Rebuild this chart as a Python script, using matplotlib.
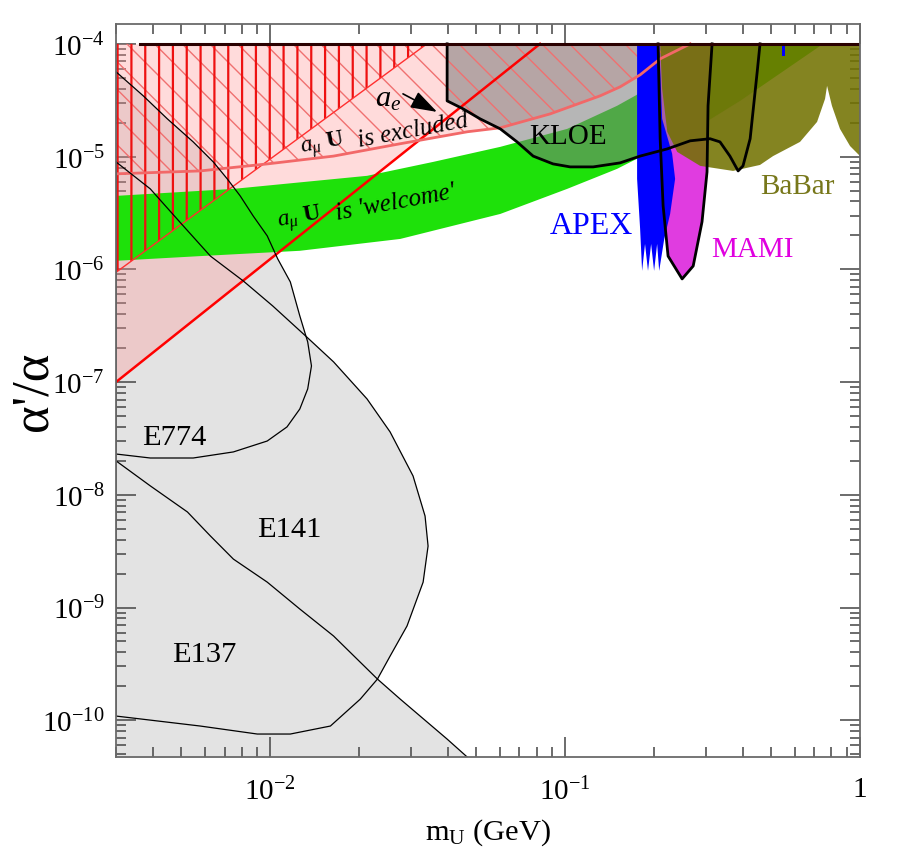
import numpy as np
import matplotlib
matplotlib.use("Agg")
import matplotlib.pyplot as plt

plt.rcParams['font.family'] = ['Liberation Serif', 'DejaVu Serif']
plt.rcParams['mathtext.fontset'] = 'custom'
plt.rcParams['mathtext.rm'] = 'Liberation Serif'
plt.rcParams['mathtext.it'] = 'Liberation Serif:italic'
plt.rcParams['mathtext.bf'] = 'Liberation Serif:bold'

# ---- data (m_U in GeV, alpha'/alpha) ----
region_top = 1e-4

# beam dump experiments
e774_m = [0.0030, 0.00371, 0.00448, 0.00548, 0.00641, 0.00715, 0.00791, 0.00875, 0.00977, 0.0106,
          0.0117, 0.0126, 0.0134, 0.0138, 0.0134, 0.0126, 0.0114, 0.00977, 0.00750, 0.00548, 0.00392, 0.0030]
e774_a = [5.65e-5, 3.46e-5, 2.16e-5, 1.35e-5, 8.97e-6, 6.34e-6, 4.48e-6, 2.98e-6, 1.98e-6, 1.24e-6,
          7.73e-7, 3.86e-7, 2.27e-7, 1.39e-7, 8.69e-8, 5.77e-8, 4.00e-8, 3.00e-8, 2.40e-8, 2.12e-8, 2.12e-8, 2.30e-8]

e141_m = [0.0030, 0.00392, 0.00507, 0.00627, 0.00810, 0.0102, 0.0133, 0.0164, 0.0213, 0.0255, 0.0305, 0.0335,
          0.0343, 0.0330, 0.0291, 0.0255, 0.0231, 0.0202, 0.0160, 0.0117, 0.00904, 0.00579, 0.0030]
e141_a = [8.97e-6, 5.17e-6, 2.43e-6, 1.31e-6, 7.89e-7, 4.73e-7, 2.51e-7, 1.51e-7, 7.08e-8, 3.61e-8, 1.47e-8, 6.48e-9,
          3.51e-9, 1.68e-9, 6.86e-10, 3.71e-10, 2.32e-10, 1.54e-10, 8.89e-11, 7.55e-11, 7.55e-11, 8.89e-11, 1.09e-10]

e137_m = [0.0030, 0.00392, 0.00524, 0.00627, 0.00750, 0.00977, 0.0126, 0.0164, 0.0231, 0.0276, 0.0398, 0.0466, 0.052]
e137_a = [2.00e-8, 1.20e-8, 7.04e-9, 4.31e-9, 2.69e-9, 1.68e-9, 9.70e-10, 5.59e-10, 2.32e-10, 1.54e-10, 6.81e-11,
          4.71e-11, 3.5e-11]

# electron g-2 (a_e) bound and muon g-2 bounds
ae_m = [0.003, 0.0822]
ae_a = [1e-7, 1e-4]

amu_excl_line_m = [0.003, 0.034]
amu_excl_line_a = [9.4e-7, 1e-4]

amu_m = [0.003, 0.00579, 0.00977, 0.0164, 0.0276, 0.0466, 0.0603, 0.0889, 0.1315, 0.1535, 0.1796, 0.210, 0.2655]
amu_a = [7.03e-6, 7.46e-6, 8.61e-6, 1.01e-5, 1.30e-5, 1.66e-5, 1.80e-5, 2.39e-5, 3.46e-5, 4.15e-5, 5.31e-5,
         7.36e-5, 1e-4]

# a_mu "welcome" band
band_hi_m = [0.003, 0.0075, 0.0213, 0.0357, 0.0603, 0.1016, 0.150, 0.175, 0.210, 0.2416]
band_hi_a = [4.48e-6, 5.17e-6, 6.75e-6, 8.97e-6, 1.22e-5, 1.76e-5, 2.82e-5, 3.53e-5, 6.52e-5, 1e-4]
band_lo_m = [0.003, 0.00579, 0.0126, 0.0276, 0.0603, 0.1016, 0.150, 0.175, 0.2493, 0.392, 0.750]
band_lo_a = [1.19e-6, 1.31e-6, 1.46e-6, 1.86e-6, 3.10e-6, 5.17e-6, 7.78e-6, 9.55e-6, 1.50e-5, 3.12e-5, 1e-4]

# KLOE
kloe_m = [0.0398, 0.0398, 0.0451, 0.0515, 0.0603, 0.0687, 0.0779, 0.0910, 0.104, 0.1245, 0.1535, 0.1796,
          0.222, 0.2655, 0.310, 0.335, 0.362, 0.386, 0.401, 0.424, 0.448, 0.458]
kloe_a = [1e-4, 3.12e-5, 2.65e-5, 2.16e-5, 1.76e-5, 1.35e-5, 1.01e-5, 8.61e-6, 8.10e-6, 8.10e-6, 8.79e-6, 1.01e-5,
          1.17e-5, 1.38e-5, 1.44e-5, 1.35e-5, 1.01e-5, 7.46e-6, 8.27e-6, 1.44e-5, 5.65e-5, 1e-4]

# MAMI
mami_m = [0.2066, 0.210, 0.2149, 0.2234, 0.2493, 0.2718, 0.2912, 0.3028, 0.3052, 0.315]
mami_a = [1e-4, 1.44e-5, 3.66e-6, 1.31e-6, 8.22e-7, 1.07e-6, 2.64e-6, 7.31e-6, 2.82e-5, 1e-4]

# APEX
apex_m = [0.1754, 0.1754, 0.1796, 0.1824, 0.1866, 0.1910, 0.1957, 0.2003, 0.2051, 0.2084, 0.2168, 0.2270,
          0.2360, 0.2306, 0.2133, 0.2084]
apex_a = [1e-4, 6.34e-6, 2.28e-6, 9.68e-7, 1.68e-6, 9.68e-7, 1.68e-6, 9.68e-7, 1.68e-6, 9.68e-7, 1.86e-6,
          3.10e-6, 6.34e-6, 1.06e-5, 2.16e-5, 1e-4]
apex2_m = [0.543, 0.543, 0.556, 0.556]
apex2_a = [1e-4, 7.8e-5, 7.8e-5, 1e-4]

# BaBar
babar_m = [0.210, 0.2133, 0.222, 0.240, 0.287, 0.371, 0.458, 0.507, 0.626, 0.715, 0.761, 0.773, 0.803, 0.855,
           0.925, 1.0, 1.12, 1.12]
babar_a = [1e-4, 3.99e-5, 1.66e-5, 1.10e-5, 8.27e-6, 7.46e-6, 8.43e-6, 1.01e-5, 1.35e-5, 2.03e-5, 3.25e-5,
           4.24e-5, 2.82e-5, 1.76e-5, 1.24e-5, 1.01e-5, 9.5e-6, 1e-4]

top_edge_m = [0.00362, 1.0]

xtick_vals = [1e-2, 1e-1, 1]
xtick_text = [r'$10^{-2}$', r'$10^{-1}$', '1']
ytick_vals = [1e-10, 1e-9, 1e-8, 1e-7, 1e-6, 1e-5, 1e-4]
ytick_text = [r'$10^{-10}$', r'$10^{-9}$', r'$10^{-8}$', r'$10^{-7}$', r'$10^{-6}$', r'$10^{-5}$', r'$10^{-4}$']

# figure drawn at 83.3 dpi so that hatch spacing matches; sizes scaled by S
DPI = 250 / 3
S = 100 / DPI


def hatch_fill(ax, m, a, hatch, color, lw, z):
    xs = list(m) + [m[-1], m[0]]
    ys = list(a) + [region_top, region_top]
    p = ax.fill(xs, ys, facecolor='none', edgecolor=color, hatch=hatch, linewidth=0, zorder=z)[0]
    if hasattr(p, 'set_hatch_linewidth'):
        p.set_hatch_linewidth(lw)
    return p


plt.rcParams['hatch.linewidth'] = 1.0 * S
fig = plt.figure(figsize=(10.8, 10.2), dpi=DPI)
ax = fig.add_axes([0.1289, 0.1082, 0.8267, 0.8624])
ax.set_xscale('log')
ax.set_yscale('log')
ax.set_xlim(0.003, 1.0)
ax.set_ylim(4.72e-11, 1.5e-4)

# gray beam dump regions
gray = '#e3e3e3'
ax.fill(e774_m, e774_a, color=gray, lw=0, zorder=1)
ax.fill(e141_m, e141_a, color=gray, lw=0, zorder=1)
ax.fill_between(e137_m, 1e-12, e137_a, color=gray, lw=0, zorder=1)

# pink: excluded by a_e or a_mu
lm = np.linspace(np.log10(ae_m[0]), np.log10(amu_m[-1]), 500)
lb = np.interp(lm, np.log10(ae_m), np.log10(ae_a))
lc = np.interp(lm, np.log10(amu_m), np.log10(amu_a))
ax.fill_between(10 ** lm, 10 ** np.minimum(lb, lc), region_top, color='#ff9a9a', alpha=0.35, lw=0, zorder=2)

# green a_mu welcome band
gx = band_hi_m + band_lo_m[::-1]
gy = band_hi_a + band_lo_a[::-1]
ax.fill(gx, gy, color='#1ee10a', lw=0, zorder=3)

# MAMI, KLOE
ax.fill(mami_m, mami_a, color='#e03ce0', lw=0, zorder=3.5)
ax.fill(kloe_m, kloe_a, color='#7a7a7a', alpha=0.55, lw=0, zorder=4)

# hatching
plt.rcParams['hatch.linewidth'] = 1.0 * S
hatch_fill(ax, amu_m, amu_a, '\\', '#f07070', 1.0 * S, 5)
plt.rcParams['hatch.linewidth'] = 1.6 * S
hatch_fill(ax, amu_excl_line_m, amu_excl_line_a, '|', '#ee1111', 1.6 * S, 5)

# BaBar, APEX
ax.fill(babar_m, babar_a, color='#727200', alpha=0.87, lw=0, zorder=6)
ax.fill(apex_m, apex_a, color='#0000ff', lw=0, zorder=6.5)
ax.fill(apex2_m, apex2_a, color='#0000ff', lw=0, zorder=6.5)

# lines
ax.plot(amu_excl_line_m, amu_excl_line_a, color='#ff3030', lw=1.0 * S, zorder=7)
ax.plot(ae_m, ae_a, color='#ff0000', lw=1.8 * S, zorder=7)
ax.plot(amu_m, amu_a, color='#f26868', lw=2.0 * S, zorder=7)
ax.plot(e774_m, e774_a, color='black', lw=0.9 * S, zorder=7)
ax.plot(e141_m + e141_m[:1], e141_a + e141_a[:1], color='black', lw=0.9 * S, zorder=7)
ax.plot(e137_m, e137_a, color='black', lw=0.9 * S, zorder=7)
ax.plot(kloe_m, kloe_a, color='black', lw=2.0 * S, zorder=7)
ax.plot(mami_m, mami_a, color='black', lw=2.0 * S, zorder=7)
ax.plot(top_edge_m, [region_top, region_top], color='#2a0000', lw=2.2 * S, zorder=7.5)

# labels
ax.text(0.00473, 3.26e-8, 'E774', fontsize=22 * S, ha='center', va='center', zorder=9)
ax.text(0.01159, 4.98e-9, 'E141', fontsize=22 * S, ha='center', va='center', zorder=9)
ax.text(0.00597, 3.86e-10, 'E137', fontsize=22 * S, ha='center', va='center', zorder=9)
ax.text(0.1023, 1.53e-5, 'KLOE', fontsize=21 * S, ha='center', va='center', zorder=9)
ax.text(0.1224, 2.43e-6, 'APEX', fontsize=23 * S, color='#0000ff', ha='center', va='center', zorder=9)
ax.text(0.4305, 1.52e-6, 'MAMI', fontsize=21 * S, color='#e000e0', ha='center', va='center', zorder=9)
ax.text(0.611, 5.50e-6, 'BaBar', fontsize=21 * S, color='#77771a', ha='center', va='center', zorder=9)

rot = 10.5
ax.text(0.0150, 1.30e-5, r'$a_{\mu}\ \mathbf{U}$', fontsize=17 * S, rotation=rot, rotation_mode='anchor',
        ha='center', va='center', zorder=9)
ax.text(0.0305, 1.73e-5, 'is excluded', fontsize=18 * S, style='italic', rotation=rot, rotation_mode='anchor',
        ha='center', va='center', zorder=9)
ax.text(0.01254, 2.86e-6, r'$a_{\mu}\ \mathbf{U}$', fontsize=17 * S, rotation=rot, rotation_mode='anchor',
        ha='center', va='center', zorder=9)
ax.text(0.0267, 3.96e-6, "is 'welcome'", fontsize=18 * S, style='italic', rotation=rot, rotation_mode='anchor',
        ha='center', va='center', zorder=9)
ax.text(0.0251, 3.25e-5, r'$a_e$', fontsize=22 * S, ha='center', va='center', zorder=9)
ax.annotate('', xy=(0.0368, 2.49e-5), xytext=(0.0282, 3.60e-5), zorder=9,
            arrowprops=dict(arrowstyle='-|>,head_length=0.9,head_width=0.3', color='black', lw=1.2 * S,
                            mutation_scale=18 * S, shrinkA=0, shrinkB=0))

# axes styling
for s in ax.spines.values():
    s.set_color('#6a6a6a')
    s.set_linewidth(1.3 * S)
    s.set_zorder(10)
ax.set_xticks(xtick_vals)
ax.set_xticklabels(xtick_text)
ax.set_yticks(ytick_vals)
ax.set_yticklabels(ytick_text)
ax.tick_params(which='both', direction='in', top=True, right=True, colors='#444444', width=1.1 * S)
ax.tick_params(which='major', length=14.5 * S)
ax.tick_params(which='minor', length=7.5 * S)
ax.tick_params(axis='x', which='major', labelsize=21 * S, pad=14 * S, labelcolor='black')
ax.tick_params(axis='y', which='major', labelsize=21 * S, pad=8 * S, labelcolor='black')
ax.xaxis.set_minor_formatter(matplotlib.ticker.NullFormatter())
ax.yaxis.set_minor_formatter(matplotlib.ticker.NullFormatter())
ax.yaxis.set_minor_locator(matplotlib.ticker.LogLocator(base=10, subs=np.arange(2, 10), numticks=20))

ax.set_xlabel(r'm$_{\rm U}$ (GeV)', fontsize=22 * S, labelpad=8 * S)
ax.set_ylabel("\u03b1'/\u03b1", fontsize=38 * S, va='center')
ax.yaxis.set_label_coords(-0.111, 0.5)

fig.savefig('out.png', dpi=DPI)
